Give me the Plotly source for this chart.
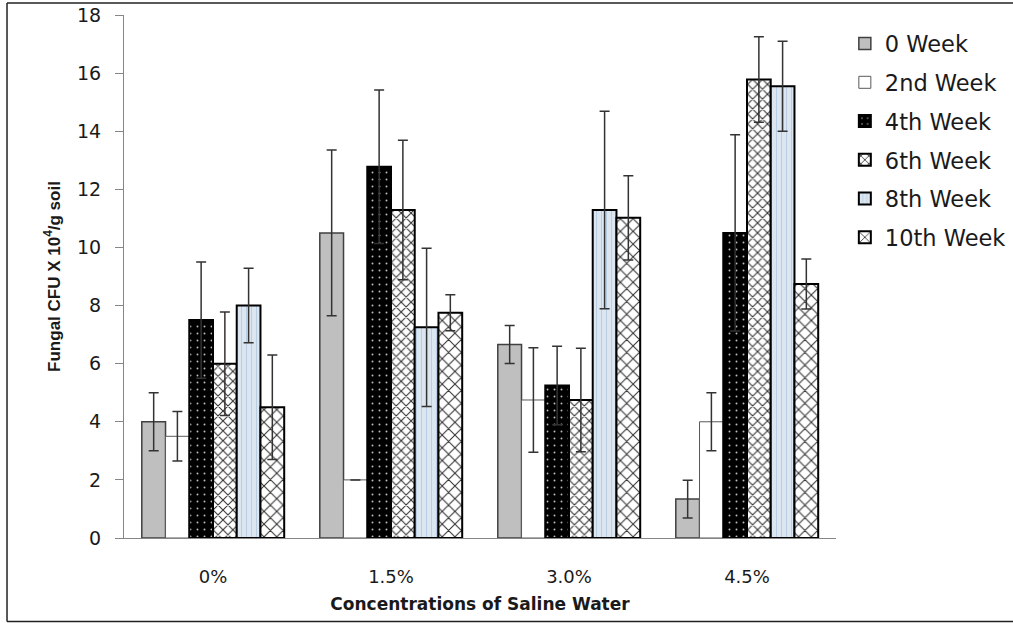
import plotly.graph_objects as go

# Saline water concentrations (x categories)
concentrations = ["0%", "1.5%", "3.0%", "4.5%"]

# Sampling weeks (legend entries)
weeks = ["0 Week", "2nd Week", "4th Week", "6th Week", "8th Week", "10th Week"]

# Mean fungal CFU (x 10^4 / g soil) per week, one value per concentration
week0 = [4.0, 10.5, 6.66, 1.34]
week2 = [3.5, 2.0, 4.75, 4.0]
week4 = [7.5, 12.78, 5.25, 10.5]
week6 = [6.0, 11.29, 4.75, 15.78]
week8 = [8.0, 7.25, 11.29, 15.55]
week10 = [4.5, 7.75, 11.02, 8.74]

# Standard errors for the same cells
err0 = [1.0, 2.85, 0.65, 0.65]
err2 = [0.85, None, 1.8, 1.0]
err4 = [2.0, 2.64, 1.35, 3.38]
err6 = [1.78, 2.4, 1.78, 1.47]
err8 = [1.28, 2.72, 3.4, 1.55]
err10 = [1.8, 0.62, 1.45, 0.86]

values = [week0, week2, week4, week6, week8, week10]
errors = [err0, err2, err4, err6, err8, err10]

# Fill style for each week's bars
styles = [
    dict(bg="#bfbfbf", fg="#bfbfbf", shape="", size=8, sol=0.2, line="#404040", lw=1.5),
    dict(bg="#ffffff", fg="#ffffff", shape="", size=8, sol=0.2, line="#595959", lw=1.0),
    dict(bg="#000000", fg="#bfbfbf", shape=".", size=7, sol=0.06, line="#000000", lw=2),
    dict(bg="#ffffff", fg="#333333", shape="x", size=7, sol=0.28, line="#000000", lw=2),
    dict(bg="#dce6f1", fg="#b9cde3", shape="|", size=5, sol=0.2, line="#000000", lw=2),
    dict(bg="#ffffff", fg="#333333", shape="x", size=9, sol=0.22, line="#000000", lw=2),
]

FONT = "DejaVu Sans"

fig = go.Figure()
for name, vals, errs, st in zip(weeks, values, errors, styles):
    fig.add_trace(go.Bar(
        name=name,
        x=concentrations,
        y=vals,
        legendgroup=name,
        marker=dict(
            color=st["bg"],
            line=dict(color=st["line"], width=st["lw"]),
            pattern=dict(shape=st["shape"], bgcolor=st["bg"], fgcolor=st["fg"],
                         size=st["size"], solidity=st["sol"], fillmode="replace"),
        ),
        error_y=dict(type="data", array=errs, visible=True,
                     color="#333333", thickness=1.5, width=5),
    ))

fig.update_layout(
    width=1013,
    height=623,
    margin=dict(l=124, r=177, t=15, b=85, autoexpand=False),
    paper_bgcolor="white",
    plot_bgcolor="white",
    barmode="group",
    bargap=0.2,
    bargroupgap=0,
    font=dict(family=FONT, color="#1a1a1a"),
    legend=dict(
        xref="container", yref="container",
        x=0.834, xanchor="left",
        y=0.964, yanchor="top",
        font=dict(family=FONT, size=22.5, color="#1a1a1a"),
        tracegroupgap=6.5,
        bgcolor="rgba(0,0,0,0)",
    ),
    xaxis=dict(
        showline=True, linecolor="#868686", linewidth=1,
        ticks="", ticklabelstandoff=22,
        tickfont=dict(family=FONT, size=18, color="#1a1a1a"),
        title=dict(text="<b>Concentrations of Saline Water</b>",
                   font=dict(family=FONT, size=17, color="#1a1a1a"), standoff=12),
    ),
    yaxis=dict(
        range=[0, 18], dtick=2, showgrid=False, zeroline=False,
        showline=True, linecolor="#868686", linewidth=1,
        ticks="outside", ticklen=8, tickcolor="#868686", ticklabelstandoff=10,
        tickfont=dict(family=FONT, size=19, color="#1a1a1a"),
        title=dict(text="<b>Fungal CFU X 10<sup>4</sup>/g soil</b>",
                   font=dict(family="Liberation Sans", size=17, color="#1a1a1a"),
                   standoff=12),
    ),
)

# Outer frame round the figure: left, top and bottom edges
frame = dict(color="#222222", width=1.5)
fig.add_shape(type="line", xref="paper", yref="paper",
              x0=-0.1643, x1=-0.1643, y0=-0.1597, y1=1.0229, line=frame)
fig.add_shape(type="line", xref="paper", yref="paper",
              x0=-0.1643, x1=1.26, y0=1.0229, y1=1.0229, line=frame)
fig.add_shape(type="line", xref="paper", yref="paper",
              x0=-0.1643, x1=1.26, y0=-0.1597, y1=-0.1597, line=frame)

fig.write_html("out.html")
